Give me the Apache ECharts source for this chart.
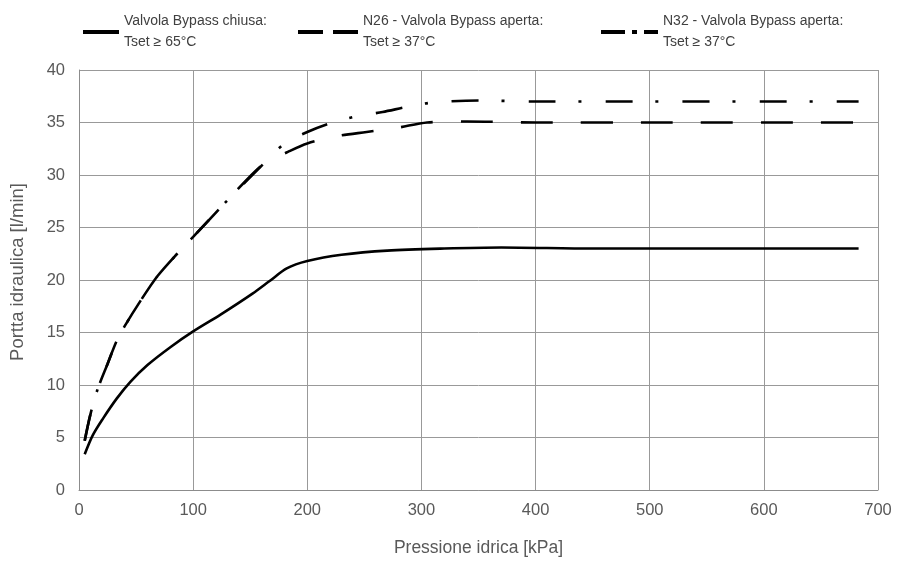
<!DOCTYPE html>
<html>
<head>
<meta charset="utf-8">
<script src="https://cdn.jsdelivr.net/npm/echarts@6/dist/echarts.min.js"></script>
<style>
  html, body { margin: 0; padding: 0; background: #fff; }
  #main { width: 897px; height: 562px; }
</style>
</head>
<body>
<div id="main"></div>
<script>
// curve points [kPa, l/min]
var chiusaX = [5, 12, 21, 33, 45, 60, 80, 100, 124, 152, 167, 182, 200, 230, 270, 320, 370, 450, 550, 683];
var chiusaY = [3.4, 5.2, 6.8, 8.7, 10.3, 11.9, 13.6, 15.1, 16.7, 18.7, 19.9, 21.1, 21.8, 22.4, 22.8, 23.0, 23.1, 23.0, 23.0, 23.0];

var n26X = [5, 10, 16, 25, 33, 40, 55, 69, 86, 100, 131, 161, 183, 200, 226, 252, 279, 305, 340, 400, 500, 683];
var n26Y = [4.7, 7.2, 9.5, 12.0, 14.2, 15.6, 18.2, 20.4, 22.5, 24.1, 27.7, 31.0, 32.2, 33.0, 33.7, 34.1, 34.5, 35.0, 35.1, 35.0, 35.0, 35.0];

var n32X = [5, 10, 16, 25, 33, 40, 55, 69, 86, 100, 131, 161, 179, 200, 222, 244, 266, 288, 310, 350, 400, 500, 683];
var n32Y = [4.7, 7.2, 9.5, 12.0, 14.2, 15.6, 18.2, 20.4, 22.5, 24.1, 27.7, 31.0, 32.9, 34.1, 35.0, 35.6, 36.0, 36.5, 36.9, 37.1, 37.0, 37.0, 37.0];

var seriesNames = [
    "Valvola Bypass chiusa:\nTset ≥ 65°C",
    "N26 - Valvola Bypass aperta:\nTset ≥ 37°C",
    "N32 - Valvola Bypass aperta:\nTset ≥ 37°C"
];

function pairs(xs, ys) {
    return xs.map(function (x, i) { return [x, ys[i]]; });
}

var myChart = echarts.init(document.getElementById("main"));

var legendText = { fontFamily: "Liberation Sans", fontSize: 14, color: "#404040", lineHeight: 21 };

var option = {
    animation: false,
    backgroundColor: "#fff",
    textStyle: { fontFamily: "Liberation Sans" },
    legend: [
        {
            data: [seriesNames[0]], left: 83, top: 11, padding: 0,
            icon: "path://M0,0H36V4H0Z", itemWidth: 36, itemHeight: 4,
            itemStyle: { color: "#000" }, textStyle: legendText
        },
        {
            data: [seriesNames[1]], left: 298, top: 11, padding: 0,
            icon: "path://M0,0H25V4H0Z M35,0H60V4H35Z", itemWidth: 60, itemHeight: 4,
            itemStyle: { color: "#000" }, textStyle: legendText
        },
        {
            data: [seriesNames[2]], left: 601, top: 11, padding: 0,
            icon: "path://M0,0H24V4H0Z M31,0H36V4H31Z M43,0H57V4H43Z", itemWidth: 57, itemHeight: 4,
            itemStyle: { color: "#000" }, textStyle: legendText
        }
    ],
    grid: { left: 79, right: 19, top: 70, bottom: 69 },
    xAxis: {
        type: "value",
        min: 0,
        max: 700,
        interval: 100,
        name: "Pressione idrica [kPa]",
        nameLocation: "middle",
        nameGap: 49,
        nameTextStyle: { fontSize: 17.5, color: "#595959" },
        axisLine: { lineStyle: { color: "#8c8c8c" } },
        axisTick: { show: false },
        axisLabel: { fontSize: 16.5, color: "#595959", margin: 12 },
        splitLine: { lineStyle: { color: "#999", width: 1 } }
    },
    yAxis: {
        type: "value",
        min: 0,
        max: 40,
        interval: 5,
        name: "Portta idraulica [l/min]",
        nameLocation: "middle",
        nameGap: 52,
        nameTextStyle: { fontSize: 18.5, color: "#595959", padding: [0, 0, 0, 16] },
        axisLine: { show: true, lineStyle: { color: "#8c8c8c" } },
        axisTick: { show: false },
        axisLabel: { fontSize: 16.5, color: "#595959", margin: 14 },
        splitLine: { lineStyle: { color: "#999", width: 1 } }
    },
    series: [
        {
            name: seriesNames[0],
            type: "line",
            smooth: 0.3,
            symbol: "none",
            data: pairs(chiusaX, chiusaY),
            lineStyle: { color: "#000", width: 2.6 },
            itemStyle: { color: "#000" }
        },
        {
            name: seriesNames[1],
            type: "line",
            smooth: 0.3,
            symbol: "none",
            data: pairs(n26X, n26Y),
            lineStyle: { color: "#000", width: 2.6, type: [32, 28] },
            itemStyle: { color: "#000" }
        },
        {
            name: seriesNames[2],
            type: "line",
            smooth: 0.3,
            symbol: "none",
            data: pairs(n32X, n32Y),
            lineStyle: { color: "#000", width: 2.6, type: [27, 23, 3, 24] },
            itemStyle: { color: "#000" }
        }
    ]
};

myChart.setOption(option);
</script>
</body>
</html>
